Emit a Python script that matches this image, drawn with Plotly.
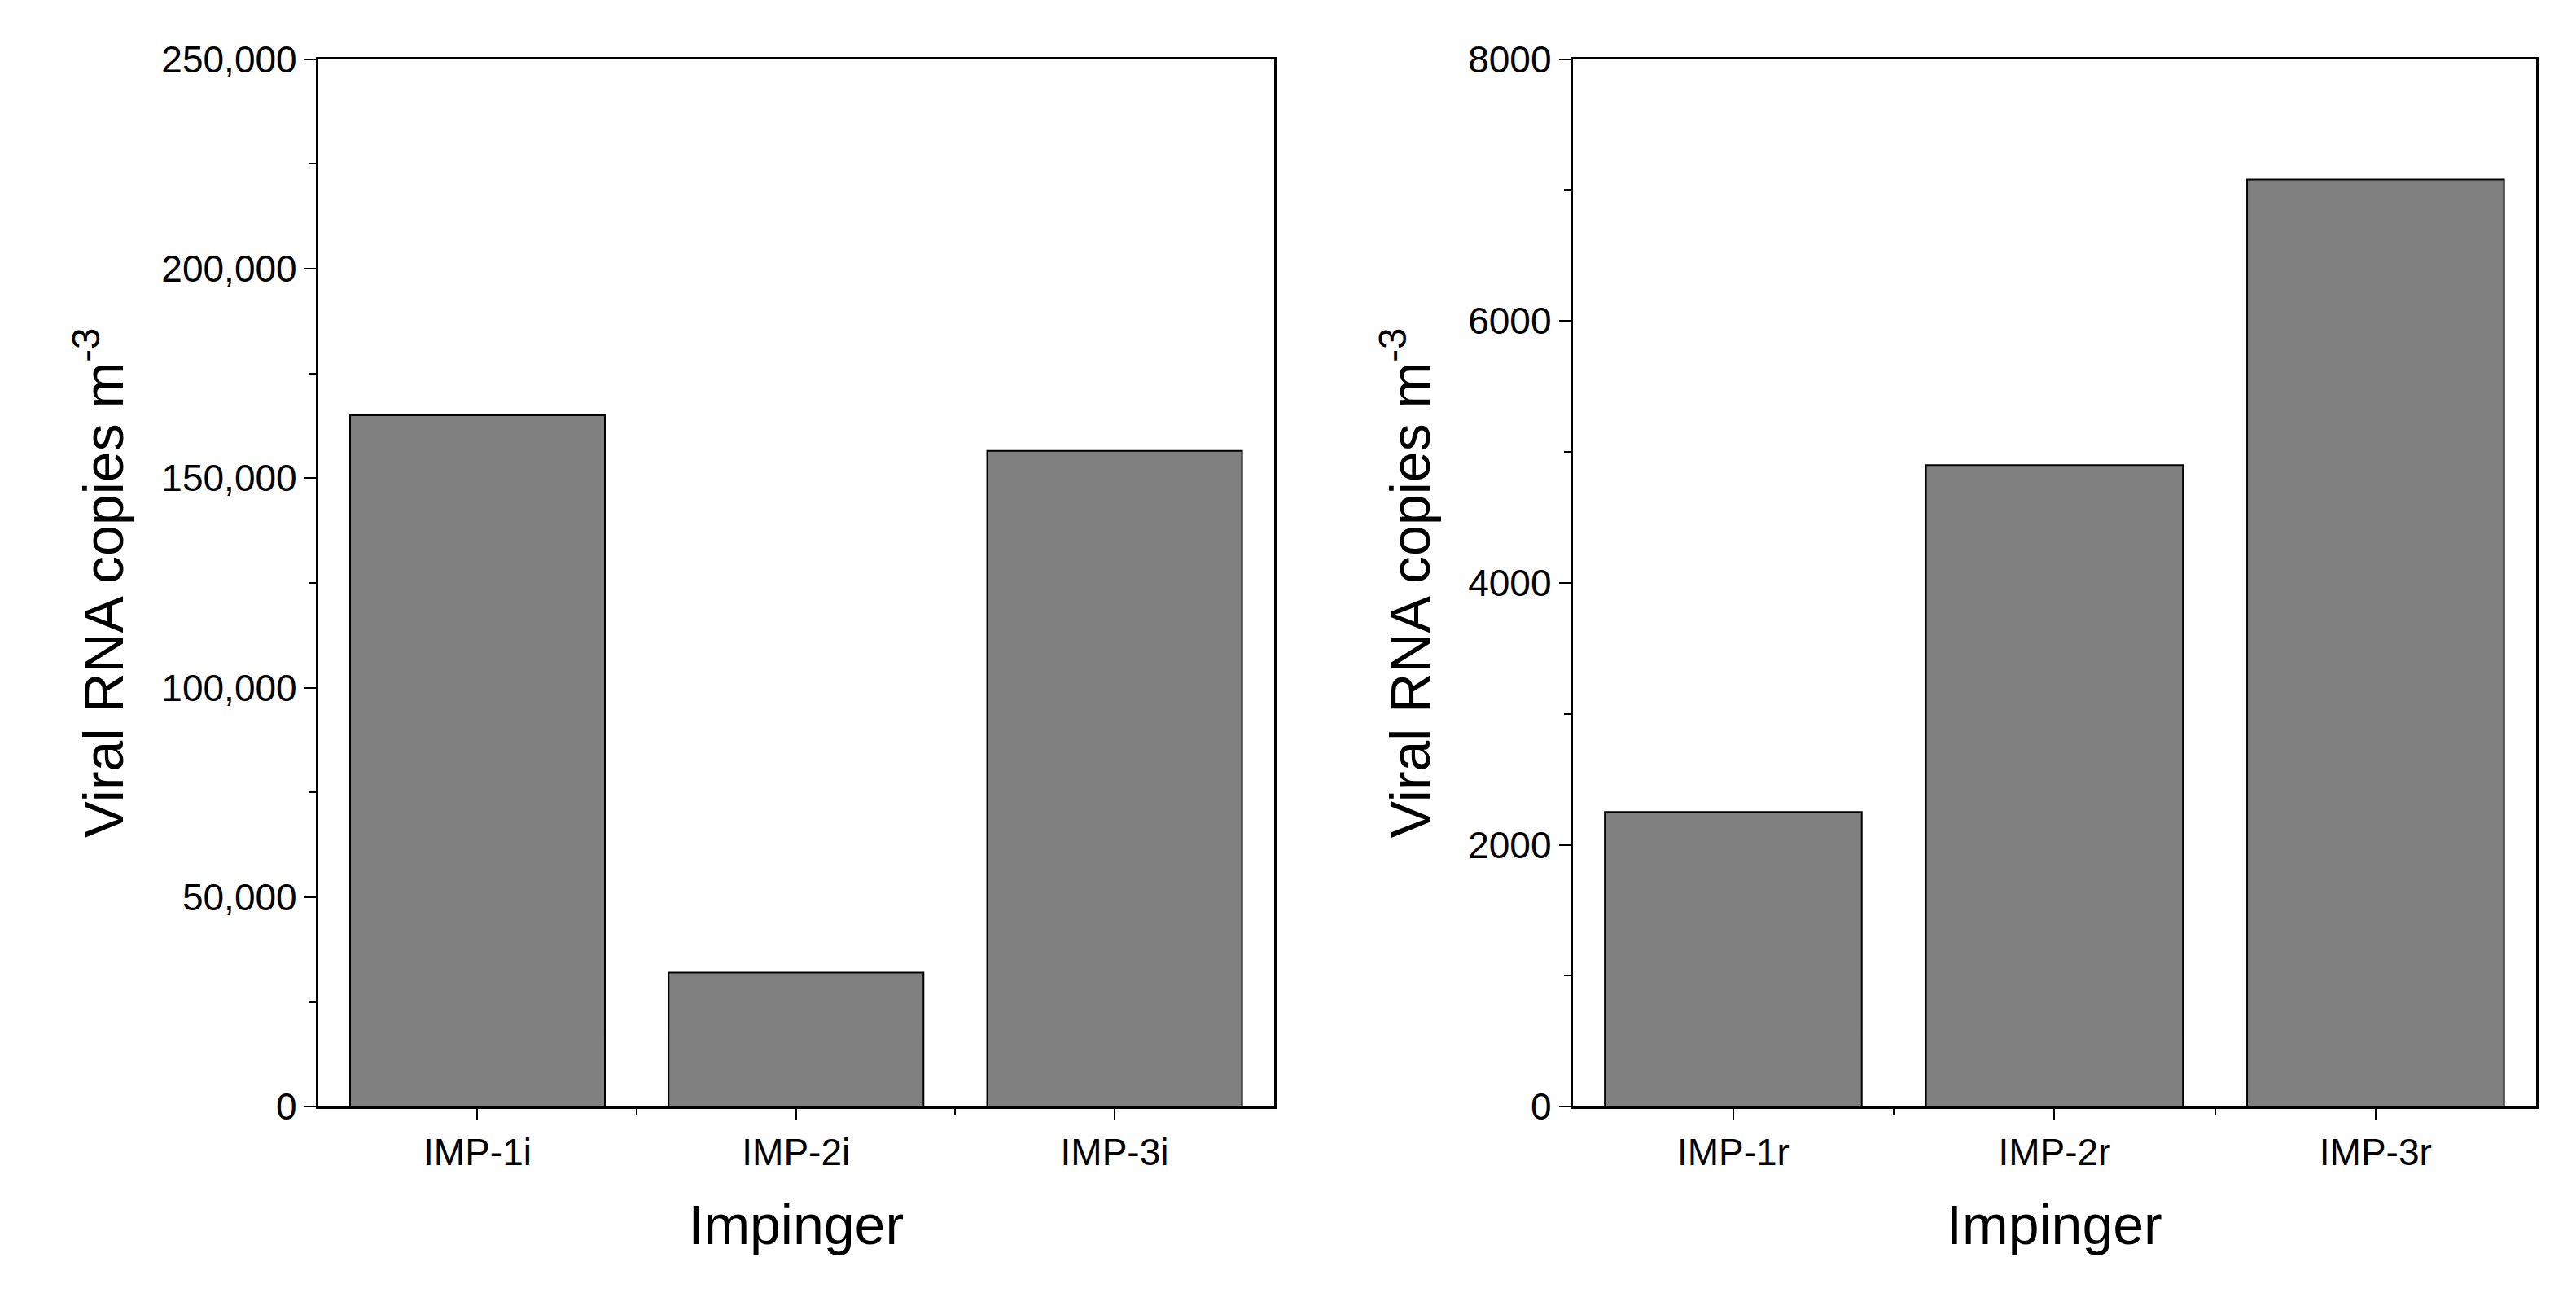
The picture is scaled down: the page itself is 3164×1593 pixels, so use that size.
import plotly.graph_objects as go

cats_i = ["IMP-1i", "IMP-2i", "IMP-3i"]
vals_i = [165000, 32000, 156500]
cats_r = ["IMP-1r", "IMP-2r", "IMP-3r"]
vals_r = [2250, 4900, 7080]

fig = go.Figure()
bar = dict(marker=dict(color="#808080", line=dict(color="black", width=2)), width=0.8)
fig.add_bar(x=[0, 1, 2], y=vals_i, xaxis="x", yaxis="y", **bar)
fig.add_bar(x=[0, 1, 2], y=vals_r, xaxis="x2", yaxis="y2", **bar)

font = "Liberation Sans, Arial, sans-serif"
ax = dict(showline=True, linecolor="black", linewidth=3, mirror=True, ticks="outside",
          ticklen=14, tickwidth=2, tickcolor="black", showgrid=False, zeroline=False,
          tickfont=dict(size=46, color="black", family=font))
xcommon = dict(ax, range=[-0.5, 2.5], tickvals=[0, 1, 2],
               minor=dict(tickvals=[0.5, 1.5], ticks="outside", ticklen=8, tickwidth=2, tickcolor="black"),
               title=dict(text="Impinger", font=dict(size=68, color="black", family=font), standoff=40))
ytitle = dict(text="Viral RNA copies m<sup>-3</sup>", font=dict(size=68, color="black", family=font), standoff=25)

dom = [0.14, 0.975]
fig.update_layout(
    width=3164, height=1593, margin=dict(l=0, r=0, t=0, b=0),
    paper_bgcolor="white", plot_bgcolor="white", showlegend=False,
    xaxis=dict(xcommon, domain=[0.121, 0.492], ticktext=cats_i, anchor="y"),
    yaxis=dict(ax, domain=dom, range=[0, 250000], dtick=50000, tickformat=",d",
               minor=dict(dtick=25000, ticks="outside", ticklen=8, tickwidth=2, tickcolor="black"),
               title=ytitle, anchor="x"),
    xaxis2=dict(xcommon, domain=[0.608, 0.982], ticktext=cats_r, anchor="y2"),
    yaxis2=dict(ax, domain=dom, range=[0, 8000], dtick=2000, tickformat="d",
                minor=dict(dtick=1000, ticks="outside", ticklen=8, tickwidth=2, tickcolor="black"),
                title=ytitle, anchor="x2"),
)
fig.write_html("out.html")
